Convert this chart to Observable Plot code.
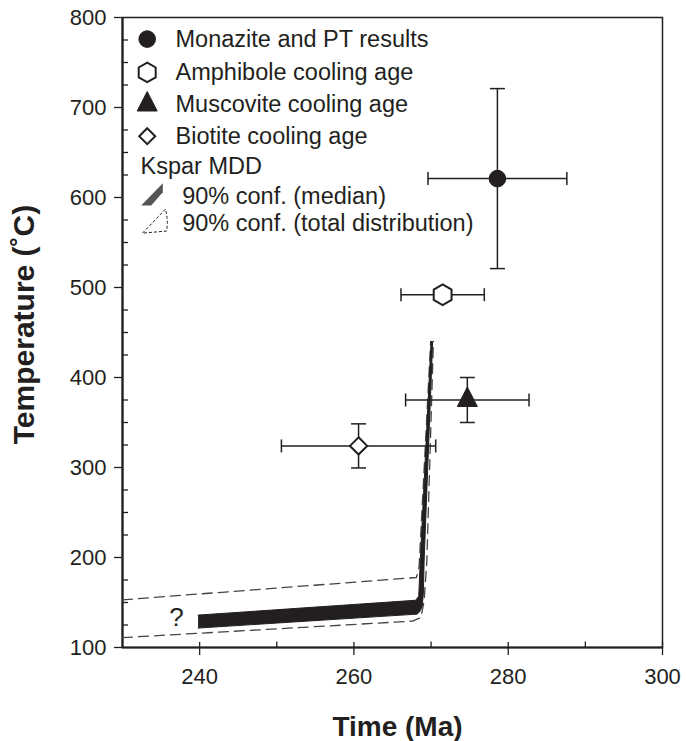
<!DOCTYPE html>
<html>
<head>
<meta charset="utf-8">
<script src="https://cdn.jsdelivr.net/npm/d3@7"></script>
<script src="https://cdn.jsdelivr.net/npm/@observablehq/plot@0.6"></script>
<style>
  html, body { margin: 0; padding: 0; background: #fff; }
</style>
</head>
<body>
<div id="chart"></div>
<script>
// ---------- data ----------
const mineral = ["Monazite and PT results", "Amphibole cooling age", "Muscovite cooling age", "Biotite cooling age"];
const ageMa   = [278.6, 271.5, 274.7, 260.6];
const ageErr  = [9, 5.4, 8, 10];
const tempC   = [621, 492, 375, 324];
const tempErr = [100, 0, 25, 24.5];

// Kspar MDD 90% conf. (median) band outline
const medianTime = [239.8, 268.0, 268.4, 268.6, 270.0, 270.2, 269.1, 269.0, 268.85, 268.55, 268.2, 239.8];
const medianTemp = [136, 152.5, 157, 196, 440, 440, 196, 160, 146, 140, 137.1, 121.6];
// Kspar MDD 90% conf. (total distribution) envelope
const upperTime = [230, 268.1, 268.45, 269.95];
const upperTemp = [153, 177.8, 190, 440];
const lowerTime = [230, 267.6, 268.7, 269.1, 269.45, 270.3];
const lowerTemp = [111, 129.3, 133.5, 151.9, 196, 440];

const noteText = ["?"];
const noteTime = [237];
const noteTemp = [133];

const xTicks = [240, 260, 280, 300];
const xMinor = [250, 270, 290];
const yTicks = [100, 200, 300, 400, 500, 600, 700, 800];
const yMinor = d3.range(125, 800, 25).filter(v => v % 100 !== 0);

const legendLabels = ["Monazite and PT results", "Amphibole cooling age", "Muscovite cooling age", "Biotite cooling age", "Kspar MDD", "90% conf. (median)", "90% conf. (total distribution)"];

// ---------- layout / style ----------
const W = 686, H = 741;
const mL = 122, mR = 24, mT = 17, mB = 94;
const frameW = W - mL - mR, frameH = H - mT - mB;
const ink = "#231f20";
const font = "'Liberation Sans', Arial, Helvetica, sans-serif";
const legendRowY = [21.6, 54.9, 87, 118.7, 148.9, 178.9, 205.6];

// custom symbols (shapes in pixels)
const rad = size => Math.sqrt(size / Math.PI);
const hexagon = {draw(c, s) { const r = rad(s); for (let k = 0; k < 6; k++) { const a = -Math.PI/2 + k*Math.PI/3; k ? c.lineTo(r*Math.cos(a), r*Math.sin(a)) : c.moveTo(r*Math.cos(a), r*Math.sin(a)); } c.closePath(); }};
const triangle = {draw(c, s) { const r = rad(s); c.moveTo(0, -1.3*r); c.lineTo(r, 0.65*r); c.lineTo(-r, 0.65*r); c.closePath(); }};
const diamond = {draw(c, s) { const r = rad(s); c.moveTo(0, -r); c.lineTo(r, 0); c.lineTo(0, r); c.lineTo(-r, 0); c.closePath(); }};
const vCap = {draw(c, s) { const r = rad(s); c.moveTo(0, -r); c.lineTo(0, r); }};
const hCap = {draw(c, s) { const r = rad(s); c.moveTo(-r, 0); c.lineTo(r, 0); }};
const bandGlyph = {draw(c) { c.moveTo(-10.8, 11.2); c.lineTo(10.8, -11.2); c.lineTo(10.8, -2.2); c.lineTo(-0.8, 11.2); c.closePath(); }};
const envGlyph = {draw(c) { c.moveTo(-12, 9); c.lineTo(11, -15); c.quadraticCurveTo(14, -3, 12, 7); c.lineTo(-12, 9); }};

const pts = mineral.map((m, i) => ({m, x: ageMa[i], xe: ageErr[i], y: tempC[i], ye: tempErr[i]}));
const vErr = pts.filter(d => d.ye > 0);
const band = medianTime.map((t, i) => ({x: t, y: medianTemp[i]}));
const upper = upperTime.map((t, i) => ({x: t, y: upperTemp[i]}));
const lower = lowerTime.map((t, i) => ({x: t, y: lowerTemp[i]}));
const notes = noteText.map((t, i) => ({t, x: noteTime[i], y: noteTemp[i]}));

const markStyle = [
  {symbol: "circle", fill: ink, stroke: ink, r: 8.3, sw: 1},
  {symbol: hexagon, fill: "white", stroke: ink, r: 10.3, sw: 2},
  {symbol: triangle, fill: ink, stroke: ink, r: 10, sw: 1},
  {symbol: diamond, fill: "white", stroke: ink, r: 8.6, sw: 2}
];
const legendSym = [
  {...markStyle[0]}, {...markStyle[1], r: 9.8}, {...markStyle[2], r: 10}, {...markStyle[3], r: 8}
];
const txt = {textAnchor: "start", lineAnchor: "middle", fontSize: 23.5, fill: ink, text: d => d};

const marks = [
  Plot.frame({stroke: ink, strokeWidth: 1.5}),
  Plot.ruleX([230], {stroke: ink, strokeWidth: 2.2}),
  Plot.ruleY([100], {stroke: ink, strokeWidth: 2.2}),
  // ticks
  Plot.axisX({ticks: xTicks, tickSize: 8, tickPadding: 13, fontSize: 22, fill: ink, stroke: ink, strokeWidth: 1.3, label: null}),
  Plot.ruleX(xTicks, {insetTop: frameH - 5, stroke: ink, strokeWidth: 1.3}),
  Plot.ruleX(xMinor, {insetTop: frameH - 5.5, stroke: ink, strokeWidth: 1.3}),
  Plot.axisY({ticks: yTicks, tickSize: 8, tickPadding: 8, fontSize: 22, fill: ink, stroke: ink, strokeWidth: 1.3, label: null}),
  Plot.ruleY(yMinor, {insetRight: frameW - 6, stroke: ink, strokeWidth: 1.3}),
  // Kspar envelope (dashed)
  Plot.line(upper, {x: "x", y: "y", stroke: "#444", strokeWidth: 1.3, strokeDasharray: "10,6"}),
  Plot.line(lower, {x: "x", y: "y", stroke: "#444", strokeWidth: 1.3, strokeDasharray: "10,6"}),
  // Kspar median band
  Plot.line(band, {x: "x", y: "y", fill: ink, stroke: ink, strokeWidth: 1, strokeLinejoin: "round"}),
  Plot.text(notes, {x: "x", y: "y", text: "t", fontSize: 26, fill: ink}),
  // error bars
  Plot.link(pts, {x1: d => d.x - d.xe, x2: d => d.x + d.xe, y1: "y", y2: "y", stroke: ink, strokeWidth: 1.5}),
  Plot.link(vErr, {x1: "x", x2: "x", y1: d => d.y - d.ye, y2: d => d.y + d.ye, stroke: ink, strokeWidth: 1.5}),
  Plot.dot(pts, {x: d => d.x - d.xe, y: "y", symbol: vCap, r: 6.5, stroke: ink, strokeWidth: 1.5}),
  Plot.dot(pts, {x: d => d.x + d.xe, y: "y", symbol: vCap, r: 6.5, stroke: ink, strokeWidth: 1.5}),
  Plot.dot(vErr, {x: "x", y: d => d.y - d.ye, symbol: hCap, r: 7.5, stroke: ink, strokeWidth: 1.5}),
  Plot.dot(vErr, {x: "x", y: d => d.y + d.ye, symbol: hCap, r: 7.5, stroke: ink, strokeWidth: 1.5}),
  // points
  ...pts.map((d, i) => Plot.dot([d], {x: "x", y: "y", symbol: markStyle[i].symbol, r: markStyle[i].r, fill: markStyle[i].fill, stroke: markStyle[i].stroke, strokeWidth: markStyle[i].sw})),
  // legend
  ...legendSym.map((s, i) => Plot.dot([legendLabels[i]], {frameAnchor: "top-left", dx: 24.7, dy: legendRowY[i], symbol: s.symbol, r: s.r, fill: s.fill, stroke: s.stroke, strokeWidth: s.sw})),
  ...legendLabels.slice(0, 4).map((t, i) => Plot.text([t], {...txt, frameAnchor: "top-left", dx: 53, dy: legendRowY[i]})),
  Plot.text([legendLabels[4]], {...txt, frameAnchor: "top-left", dx: 18, dy: legendRowY[4]}),
  Plot.dot([legendLabels[5]], {frameAnchor: "top-left", dx: 29.5, dy: legendRowY[5] - 2, symbol: bandGlyph, fill: "#555", stroke: "none"}),
  Plot.dot([legendLabels[6]], {frameAnchor: "top-left", dx: 32, dy: legendRowY[6] + 1, symbol: envGlyph, fill: "none", stroke: ink, strokeWidth: 1, strokeDasharray: "3,2"}),
  ...legendLabels.slice(5).map((t, i) => Plot.text([t], {...txt, frameAnchor: "top-left", dx: 59.7, dy: legendRowY[5 + i]})),
  // axis titles
  Plot.text(["Temperature (˚C)"], {frameAnchor: "left", dx: -98, dy: -8, rotate: -90, textAnchor: "middle", lineAnchor: "middle", text: d => d, fontSize: 30, fontWeight: "bold", fill: ink}),
  Plot.text(["Time (Ma)"], {frameAnchor: "bottom", dx: 5, dy: 69, textAnchor: "middle", lineAnchor: "top", text: d => d, fontSize: 28, fontWeight: "bold", fill: ink})
];

const chart = Plot.plot({
  width: W, height: H,
  marginLeft: mL, marginRight: mR, marginTop: mT, marginBottom: mB,
  style: {fontFamily: font, background: "white", color: ink, overflow: "visible"},
  x: {domain: [230, 300], axis: null},
  y: {domain: [100, 800], axis: null},
  marks
});
document.getElementById("chart").appendChild(chart);
</script>
</body>
</html>
